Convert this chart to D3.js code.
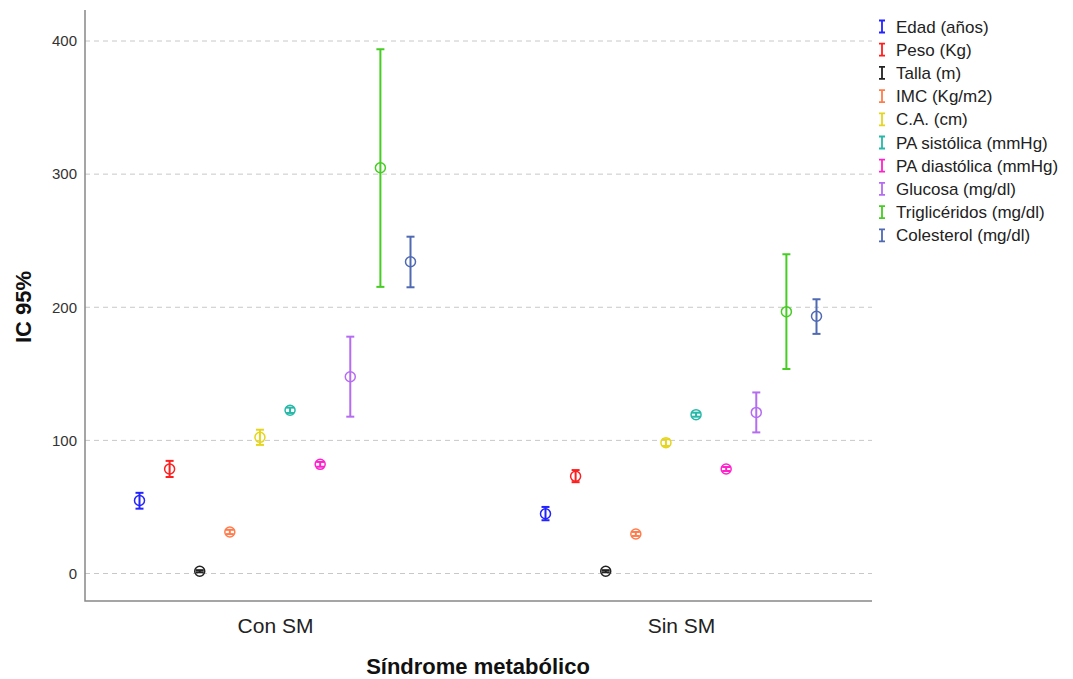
<!DOCTYPE html>
<html><head><meta charset="utf-8">
<script src="https://cdn.jsdelivr.net/npm/d3@7"></script>
<style>body{margin:0;background:#fff;font-family:"Liberation Sans",Arial,sans-serif}</style>
</head><body><svg id="c" width="1073" height="679"></svg>
<script>
const groups = ["Con SM", "Sin SM"];
const series = ["Edad (años)", "Peso (Kg)", "Talla (m)", "IMC (Kg/m2)", "C.A. (cm)", "PA sistólica (mmHg)", "PA diastólica (mmHg)", "Glucosa (mg/dl)", "Triglicéridos (mg/dl)", "Colesterol (mg/dl)"];
const colors = ["#2323ff", "#ff1f1f", "#222222", "#ff7d4d", "#e6d51e", "#26b8a8", "#ff22cc", "#b56cf2", "#46cc22", "#4f69b3"];
const meanCon = [54.8, 78.5, 1.7, 31.2, 102.3, 122.6, 82.0, 147.8, 304.8, 234.2];
const lowCon  = [48.7, 72.5, 0.9, 29.6, 96.6, 120.6, 80.2, 117.8, 215.3, 215.0];
const highCon = [60.6, 84.6, 2.5, 32.8, 108.0, 124.6, 83.8, 177.9, 393.8, 253.0];
const meanSin = [44.9, 73.0, 1.7, 29.7, 98.3, 119.3, 78.5, 121.0, 196.7, 193.2];
const lowSin  = [40.0, 68.6, 0.9, 28.2, 95.8, 117.8, 77.0, 106.0, 153.6, 180.0];
const highSin = [50.0, 77.7, 2.5, 31.2, 100.8, 120.8, 80.0, 136.0, 239.8, 206.0];
const yTicks = [0, 100, 200, 300, 400];
const means = [meanCon, meanSin], lows = [lowCon, lowSin], highs = [highCon, highSin];

const svg = d3.select("#c");
const L = 85, R = 872, T = 10, B = 601;
const y = d3.scaleLinear().domain([0, 400]).range([573.5, 41]);
const x = d3.scalePoint().domain(groups).range([275, 681]);
const off = d3.scalePoint().domain(series).range([-135.5, 135.5]);

// gridlines
svg.append("g").selectAll("line").data(yTicks).join("line")
  .attr("x1", L).attr("x2", R).attr("y1", d => y(d)).attr("y2", d => y(d))
  .attr("stroke", "#c8c8c8").attr("stroke-dasharray", "5,4").attr("stroke-width", 1);

// y axis
const yAxis = d3.axisLeft(y).tickValues(yTicks).tickSize(0).tickPadding(8);
const ga = svg.append("g").attr("transform", `translate(${L},0)`).call(yAxis);
ga.select(".domain").remove();
ga.selectAll("text").attr("font-size", 15).attr("fill", "#333").attr("font-family", "Liberation Sans, Arial, sans-serif");

const xAxis = d3.axisBottom(x).tickSize(0).tickPadding(17);
const gx = svg.append("g").attr("transform", `translate(0,${B})`).call(xAxis);
gx.select(".domain").remove();
gx.selectAll("text").attr("font-size", 21).attr("fill", "#222").attr("font-family", "Liberation Sans, Arial, sans-serif");

svg.append("path").attr("d", `M${L},${T}V${B}H${R}`).attr("fill", "none").attr("stroke", "#888").attr("stroke-width", 1.5);

// axis titles
svg.append("text").attr("transform", "translate(31,307) rotate(-90)").attr("text-anchor", "middle")
  .attr("font-size", 22).attr("font-weight", "bold").attr("fill", "#111").text("IC 95%");
svg.append("text").attr("x", 478).attr("y", 674).attr("text-anchor", "middle")
  .attr("font-size", 22).attr("font-weight", "bold").attr("fill", "#111").text("Síndrome metabólico");

// error bars
const data = [];
groups.forEach((g, gi) => series.forEach((s, si) => data.push({g, s, si, m: means[gi][si], lo: lows[gi][si], hi: highs[gi][si]})));
const cx = d => x(d.g) + off(d.s);
const eg = svg.append("g").selectAll("g").data(data).join("g").attr("stroke", d => colors[d.si]).attr("fill", "none");
eg.append("line").attr("x1", cx).attr("x2", cx).attr("y1", d => y(d.lo)).attr("y2", d => y(d.hi)).attr("stroke-width", 2);
eg.append("line").attr("x1", d => cx(d) - 4).attr("x2", d => cx(d) + 4).attr("y1", d => y(d.lo)).attr("y2", d => y(d.lo)).attr("stroke-width", 2);
eg.append("line").attr("x1", d => cx(d) - 4).attr("x2", d => cx(d) + 4).attr("y1", d => y(d.hi)).attr("y2", d => y(d.hi)).attr("stroke-width", 2);
eg.append("circle").attr("cx", cx).attr("cy", d => y(d.m)).attr("r", 5).attr("stroke-width", 1.5);

// legend
const lg = svg.append("g").selectAll("g").data(series).join("g")
  .attr("transform", (d, i) => `translate(882,${26.5 + i * 23.2})`);
lg.append("path").attr("d", "M-3,-6H3M0,-6V6M-3,6H3").attr("stroke", (d, i) => colors[i]).attr("stroke-width", 1.8).attr("fill", "none");
lg.append("text").attr("x", 14).attr("y", 6).attr("font-size", 17).attr("fill", "#222").text(d => d);
</script></body></html>
